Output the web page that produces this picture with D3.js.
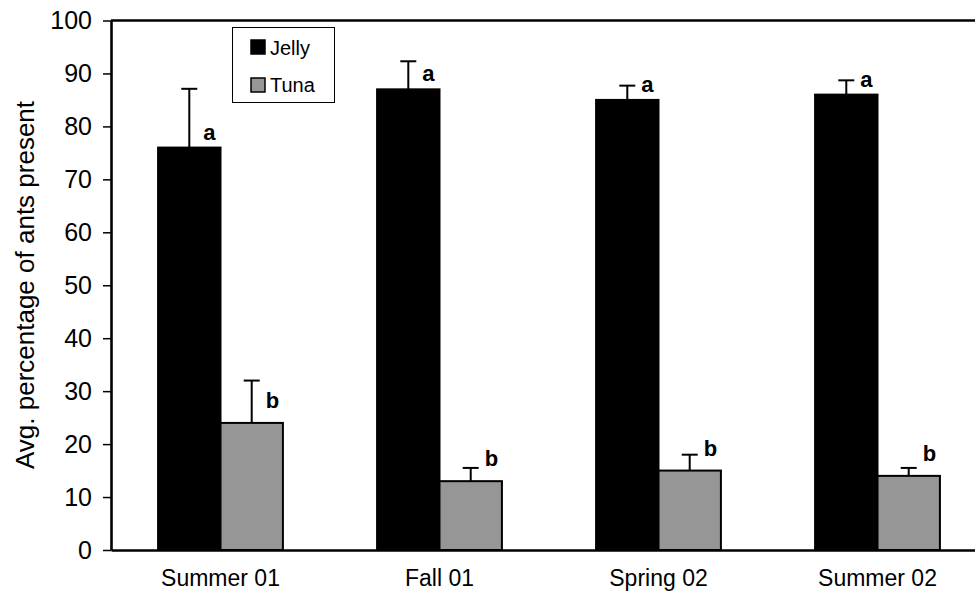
<!DOCTYPE html>
<html>
<head>
<meta charset="utf-8">
<script src="https://cdn.jsdelivr.net/npm/d3@7/dist/d3.min.js"></script>
<style>
  html, body { margin: 0; padding: 0; background: #fff; }
  svg { display: block; font-family: Arial, "Liberation Sans", sans-serif; }
</style>
</head>
<body>
<svg id="chart" width="975" height="596"></svg>
<script>
// Seasons sampled and the two bait types
const seasons = ["Summer 01", "Fall 01", "Spring 02", "Summer 02"];
const baits = ["Jelly", "Tuna"];

// Mean percentage of ants present at each bait
const jellyMeans = [76, 87, 85, 86];
const tunaMeans = [24, 13, 15, 14];

// Upper error (standard error) for each mean
const jellyErrors = [11.1, 5.3, 2.7, 2.7];
const tunaErrors = [8, 2.5, 3, 1.5];

// Significance letters
const jellyLetters = ["a", "a", "a", "a"];
const tunaLetters = ["b", "b", "b", "b"];

// Y axis ticks
const yTicks = [0, 10, 20, 30, 40, 50, 60, 70, 80, 90, 100];

const fills = { Jelly: "#000000", Tuna: "#969696" };

const svg = d3.select("#chart");
const plot = { left: 111, right: 987, top: 20.5, bottom: 550 };

const x = d3.scaleBand()
  .domain(seasons)
  .range([plot.left, plot.right])
  .paddingInner(0.43)
  .paddingOuter(0.215);

const xs = d3.scaleBand()
  .domain(baits)
  .range([0, x.bandwidth()]);

const y = d3.scaleLinear()
  .domain([0, 100])
  .range([plot.bottom, plot.top]);

const rows = [];
seasons.forEach((s, i) => {
  rows.push({ season: s, bait: "Jelly", mean: jellyMeans[i], err: jellyErrors[i], letter: jellyLetters[i] });
  rows.push({ season: s, bait: "Tuna", mean: tunaMeans[i], err: tunaErrors[i], letter: tunaLetters[i] });
});

// Plot frame (top and right edges of the plot area)
svg.append("path")
  .attr("d", `M${plot.left},${plot.top}H${plot.right}V${plot.bottom}`)
  .attr("fill", "none")
  .attr("stroke", "#000")
  .attr("stroke-width", 2.6);

// Error bars (drawn first so the bar tops cover their bases)
const cx = d => x(d.season) + xs(d.bait) + xs.bandwidth() / 2;
const eb = svg.append("g").attr("stroke", "#000").attr("stroke-width", 2);
eb.selectAll("line.stem").data(rows).join("line")
  .attr("class", "stem")
  .attr("x1", cx).attr("x2", cx)
  .attr("y1", d => y(d.mean)).attr("y2", d => y(d.mean + d.err));
eb.selectAll("line.cap").data(rows).join("line")
  .attr("class", "cap")
  .attr("x1", d => cx(d) - 8).attr("x2", d => cx(d) + 8)
  .attr("y1", d => y(d.mean + d.err)).attr("y2", d => y(d.mean + d.err));

// Bars
svg.append("g").selectAll("rect").data(rows).join("rect")
  .attr("x", d => x(d.season) + xs(d.bait))
  .attr("y", d => y(d.mean))
  .attr("width", xs.bandwidth())
  .attr("height", d => y(0) - y(d.mean))
  .attr("fill", d => fills[d.bait])
  .attr("stroke", "#000")
  .attr("stroke-width", 2);

// Significance letters
svg.append("g").selectAll("text").data(rows).join("text")
  .attr("x", d => cx(d) + 14)
  .attr("y", d => y(d.mean) - (d.bait === "Jelly" ? 8 : 15))
  .attr("font-size", 22)
  .attr("font-weight", "bold")
  .text(d => d.letter);

// Y axis
const yAxis = svg.append("g")
  .attr("transform", `translate(${plot.left},0)`)
  .call(d3.axisLeft(y).tickValues(yTicks).tickSize(8).tickPadding(11).tickSizeOuter(0));
yAxis.select(".domain").attr("stroke-width", 2.6);
yAxis.selectAll(".tick line").attr("stroke-width", 1.5);
yAxis.selectAll(".tick text")
  .attr("font-size", 25)
  .attr("font-family", "Arial, 'Liberation Sans', sans-serif")
  .attr("fill", "#000");

// X axis baseline and category labels
const xAxis = svg.append("g")
  .attr("transform", `translate(0,${plot.bottom})`)
  .call(d3.axisBottom(x).tickSize(0).tickPadding(20).tickSizeOuter(0));
xAxis.select(".domain").attr("stroke-width", 2.6);
xAxis.selectAll(".tick text")
  .attr("font-size", 23)
  .attr("font-family", "Arial, 'Liberation Sans', sans-serif")
  .attr("fill", "#000")
  .attr("dy", "0.71em");

// Y axis title
svg.append("text")
  .attr("transform", "translate(33.5,285) rotate(-90)")
  .attr("text-anchor", "middle")
  .attr("font-size", 26)
  .text("Avg. percentage of ants present");

// Legend
const legend = svg.append("g");
legend.append("rect")
  .attr("x", 232.5).attr("y", 27.5)
  .attr("width", 102).attr("height", 75)
  .attr("fill", "#fff")
  .attr("stroke", "#000")
  .attr("stroke-width", 1);
baits.forEach((b, i) => {
  legend.append("rect")
    .attr("x", 251).attr("y", 40 + i * 38)
    .attr("width", 14).attr("height", 14)
    .attr("fill", fills[b])
    .attr("stroke", "#000")
    .attr("stroke-width", 1.5);
  legend.append("text")
    .attr("x", 270).attr("y", 54.5 + i * 37)
    .attr("font-size", 20)
    .text(b);
});
</script>
</body>
</html>
